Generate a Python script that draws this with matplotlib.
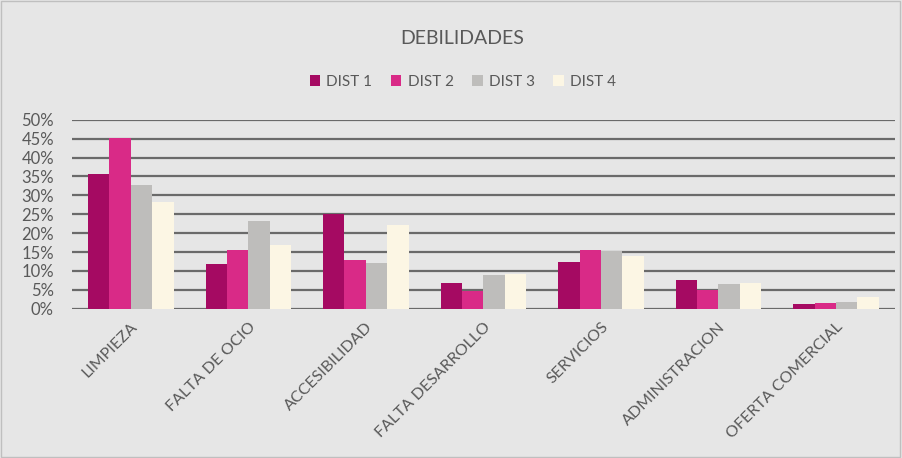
import matplotlib.pyplot as plt
import numpy as np
from matplotlib.patches import Rectangle

plt.rcParams['font.family'] = ['Lato', 'DejaVu Sans']

categories = ["LIMPIEZA", "FALTA DE OCIO", "ACCESIBILIDAD", "FALTA DESARROLLO",
              "SERVICIOS", "ADMINISTRACION", "OFERTA COMERCIAL"]
dist1 = [35.6, 11.7, 25.1, 6.8, 12.3, 7.6, 1.2]
dist2 = [45.2, 15.6, 12.9, 4.8, 15.6, 4.9, 1.5]
dist3 = [32.7, 23.3, 12.0, 8.9, 15.2, 6.6, 1.8]
dist4 = [28.2, 16.8, 22.1, 9.3, 13.9, 6.9, 3.2]
series_names = ["DIST 1", "DIST 2", "DIST 3", "DIST 4"]
colors = ["#a50a62", "#d92a87", "#bebdbb", "#fcf6e4"]

bg = "#e6e6e6"
txt = "#595959"

fig = plt.figure(figsize=(9.02, 4.58), dpi=100, facecolor=bg)
ax = fig.add_axes([0.0798, 0.326, 0.9122, 0.4126], facecolor=bg)

x = np.arange(len(categories))
w = 0.182
for i, (vals, name, c) in enumerate(zip([dist1, dist2, dist3, dist4], series_names, colors)):
    ax.bar(x + (i - 1.5) * w, np.array(vals) / 100, w, color=c, label=name, zorder=3)

ax.set_xlim(-0.5, len(categories) - 0.5)
ax.set_ylim(0, 0.5)
ticks = np.arange(0, 0.51, 0.05)
ax.set_yticks(ticks)
ax.set_yticklabels([f"{int(round(v * 100))}%" for v in ticks])
ax.yaxis.grid(True, color="#6a6a6a", linewidth=1.6, zorder=0)
ax.set_axisbelow(True)
for s in ax.spines.values():
    s.set_visible(False)
ax.tick_params(axis='both', length=0, colors=txt)
ax.tick_params(axis='y', pad=13, labelsize=12)
ax.tick_params(axis='x', pad=8, labelsize=11.5)
ax.set_xticks(x)
ax.set_xticklabels(categories, rotation=45, ha='right', rotation_mode='anchor', color=txt)

fig.text(0.512, 0.915, "DEBILIDADES", ha='center', va='center', fontsize=14, color=txt)
fig.legend(loc='center', bbox_to_anchor=(0.513, 0.822), ncol=4, frameon=False,
           handlelength=0.7, handleheight=0.7, handletextpad=0.4, columnspacing=1.2,
           fontsize=11, labelcolor=txt)

fig.patches.append(Rectangle((0.001, 0.002), 0.997, 0.995, transform=fig.transFigure,
                             fill=False, edgecolor="#bfbfbf", linewidth=1))

plt.savefig("out.png", dpi=100, facecolor=bg)
